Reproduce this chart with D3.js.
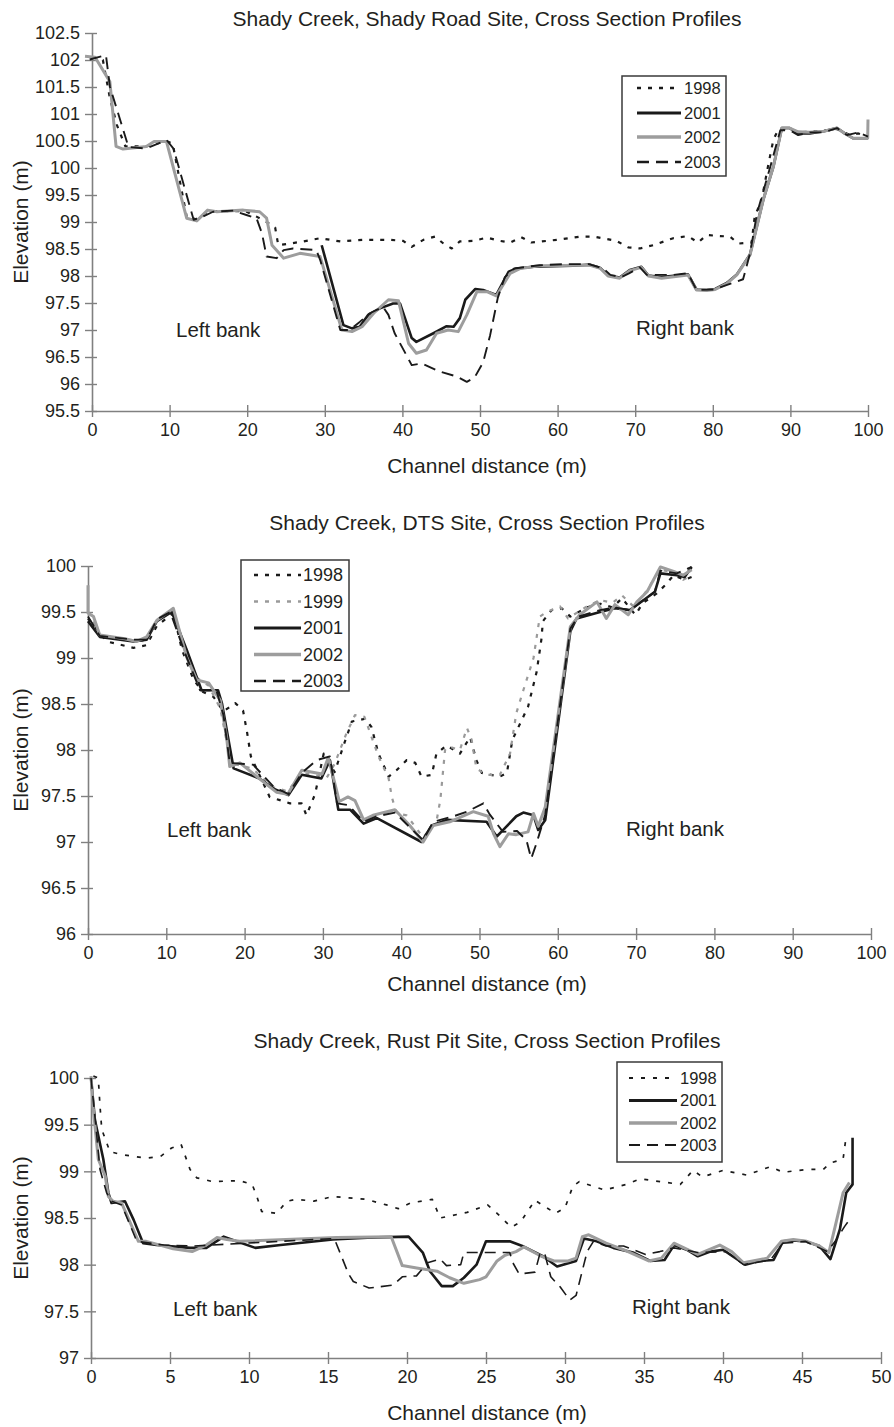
<!DOCTYPE html>
<html>
<head>
<meta charset="utf-8">
<script src="https://cdn.jsdelivr.net/npm/d3@7/dist/d3.min.js"></script>
<style>
  body { margin: 0; background: #fff; }
  text { font-family: "Liberation Sans", Arial, sans-serif; fill: #231f20; }
</style>
</head>
<body>
<div id="chart"></div>
<script>
// ---- Shady Road site: [channel distance (m), elevation (m)]
var road1998 = [[0,102.05],[1.4,102.0],[2.3,101.3],[3.2,100.8],[4.3,100.4],[7,100.4],[9.6,100.5],[10.4,100.45],[12.2,99.1],[13.4,99.05],[15,99.2],[19.8,99.2],[21.2,99.1],[22.5,99.0],[23.6,98.9],[24.0,98.57],[25.5,98.6],[27.2,98.64],[29.4,98.7],[32,98.64],[35,98.67],[38.4,98.67],[40.1,98.65],[41.2,98.54],[42.7,98.67],[44.2,98.73],[45.3,98.6],[46.35,98.51],[47.4,98.64],[49.1,98.65],[50.9,98.71],[52.6,98.65],[53.9,98.62],[55.3,98.72],[56.6,98.62],[59.9,98.67],[62.9,98.73],[64.6,98.73],[67.6,98.65],[69.1,98.53],[70.6,98.51],[72.3,98.57],[74.9,98.7],[76.8,98.74],[78.1,98.62],[79.2,98.76],[80.9,98.74],[82.2,98.73],[83.3,98.6],[85.0,98.62],[85.4,99.1],[86.3,99.41],[87.1,100.02],[87.8,100.52],[88.4,100.7],[89.5,100.74],[91.2,100.66],[93.3,100.68],[96.0,100.72],[97.7,100.61],[98.75,100.64],[100,100.58]];
var road2001 = [[29.6,98.57],[32.4,97.09],[33.5,97.03],[34.5,97.06],[35.6,97.28],[37.1,97.4],[38.8,97.49],[39.7,97.49],[41.2,96.85],[41.8,96.78],[44.0,96.94],[45.7,97.07],[46.6,97.06],[47.4,97.22],[48.1,97.56],[49.4,97.76],[50.4,97.74],[52.1,97.65],[53.7,98.08],[54.7,98.14],[56.9,98.17],[62,98.19],[64.2,98.21],[65.5,98.15],[66.5,98.01],[68.0,97.97],[69.3,98.11],[70.8,98.17],[71.7,98.01],[73.4,97.98],[76.8,98.03],[77.9,97.75],[79.2,97.74],[80.3,97.76],[81.8,97.87],[83.1,98.03],[84.8,98.4],[86.5,99.41],[87.8,100.02],[88.9,100.74],[89.9,100.74],[91.0,100.64],[92.5,100.64],[94.3,100.68],[96.0,100.74],[97.0,100.64],[98.1,100.55],[100,100.55]];
var road2002 = [[-0.9,102.07],[0.4,102.05],[2.3,101.6],[3.1,100.4],[4.0,100.35],[7.0,100.4],[8.0,100.49],[9.6,100.49],[12.2,99.07],[13.5,99.02],[14.9,99.22],[16.1,99.19],[19.5,99.22],[21.6,99.19],[22.5,99.07],[23.2,98.57],[24.7,98.33],[26.8,98.42],[29.4,98.36],[32.2,97.0],[33.5,96.97],[34.8,97.06],[36.3,97.31],[38.2,97.56],[39.5,97.54],[40.8,96.75],[41.8,96.57],[43.1,96.63],[44.4,96.94],[45.9,97.0],[47.2,96.97],[48.3,97.28],[49.6,97.71],[50.9,97.71],[52.1,97.63],[53.9,98.05],[55.2,98.14],[57.7,98.19],[62.9,98.2],[64.2,98.2],[65.5,98.14],[66.5,98.0],[68.0,97.96],[69.3,98.1],[70.8,98.16],[71.7,98.0],[73.4,97.96],[76.8,98.02],[77.9,97.74],[79.2,97.73],[80.3,97.75],[81.8,97.86],[83.1,98.02],[84.8,98.39],[86.5,99.41],[87.8,100.02],[88.9,100.74],[89.9,100.74],[91.0,100.67],[92.5,100.66],[94.3,100.68],[96.0,100.74],[97.0,100.64],[98.1,100.55],[99.96,100.55],[100.0,100.9]];
var road2003 = [[-0.3,102.01],[1.8,102.09],[2.3,101.51],[4.7,100.39],[7.0,100.36],[9.6,100.52],[10.5,100.36],[13.1,99.04],[14.3,99.1],[15.6,99.19],[18.2,99.21],[19.9,99.13],[21.2,99.07],[21.9,98.79],[22.5,98.36],[23.8,98.33],[24.7,98.48],[25.9,98.51],[28.9,98.48],[29.4,98.3],[32.0,97.0],[33.2,97.0],[34.5,97.15],[35.8,97.31],[37.5,97.43],[38.2,97.28],[39.0,96.94],[41.2,96.35],[42.5,96.38],[44.8,96.23],[47.0,96.14],[48.3,96.04],[49.3,96.12],[50.4,96.4],[51.3,96.9],[52.3,97.6],[53.2,97.98],[54.4,98.14],[57.7,98.2],[61.2,98.22],[64.0,98.22],[65.9,98.14],[66.8,98.02],[68.2,97.98],[69.2,98.05],[70.6,98.16],[71.5,98.02],[74.9,98.02],[76.8,98.05],[77.9,97.74],[80.2,97.75],[83.1,97.9],[83.9,97.94],[84.8,98.42],[85.7,99.16],[87.4,100.02],[88.7,100.7],[89.9,100.7],[91.0,100.61],[92.5,100.66],[94.3,100.66],[96.0,100.74],[97.3,100.61],[98.75,100.66],[100,100.58]];

// ---- DTS site
var dts1998 = [[0,99.43],[2.4,99.18],[5.8,99.11],[7.5,99.14],[8.8,99.35],[10.9,99.49],[12.0,99.09],[13.5,98.76],[14.7,98.63],[16.0,98.58],[17.3,98.42],[18.8,98.51],[19.8,98.43],[20.3,98.2],[20.8,97.93],[22.0,97.71],[23.2,97.49],[25.8,97.42],[27.3,97.42],[27.9,97.29],[29.0,97.52],[30.1,97.96],[31.5,97.76],[32.6,98.04],[33.7,98.31],[35.4,98.34],[36.2,98.25],[37.1,97.96],[38.4,97.71],[39.4,97.78],[40.7,97.89],[41.8,97.86],[42.6,97.71],[43.9,97.73],[44.5,97.96],[45.8,98.05],[47.5,97.96],[48.8,98.14],[49.6,97.89],[50.3,97.75],[52.6,97.71],[53.5,97.75],[54.2,98.11],[55.2,98.29],[56.2,98.47],[57.3,98.85],[57.9,99.2],[58.1,99.4],[59.2,99.52],[60.5,99.54],[61.6,99.45],[63.7,99.55],[65.4,99.59],[67,99.55],[68.2,99.65],[69.9,99.47],[70.9,99.6],[72.6,99.7],[73.7,99.79],[74.8,99.9],[76.2,99.85],[77.1,99.88]];
var dts1999 = [[0,99.5],[1.5,99.25],[5,99.2],[7.5,99.18],[8.8,99.4],[10.7,99.52],[12.2,99.12],[13.6,98.8],[15.4,98.7],[16.9,98.45],[17.8,98.05],[18.5,97.85],[21,97.8],[23.5,97.6],[25.5,97.55],[27.3,97.75],[29.5,97.72],[30.5,97.7],[31.5,97.85],[33,98.18],[34.1,98.38],[35.3,98.36],[37.1,97.93],[38.4,97.69],[38.8,97.49],[39.4,97.31],[40.7,97.29],[42.8,97.05],[44.5,97.22],[45,97.46],[45.6,98.0],[46,98.04],[47.5,98.0],[48.4,98.24],[49,98.11],[49.6,97.8],[50.9,97.73],[52.6,97.73],[53.9,97.96],[54.7,98.4],[55.6,98.65],[56.9,99.0],[57.7,99.45],[58.6,99.5],[60.3,99.56],[61.3,99.43],[63.5,99.55],[65.4,99.63],[67,99.6],[68.2,99.68],[69.8,99.55],[71.4,99.74],[73.1,99.96],[74.8,99.93],[76,99.85],[77.1,99.9]];
var dts2001 = [[0,99.4],[1.5,99.23],[5.8,99.18],[7.5,99.2],[8.8,99.4],[10.7,99.5],[12.6,99.09],[14.5,98.65],[16.6,98.65],[17.1,98.51],[18.6,97.8],[21.9,97.69],[23.7,97.58],[25.6,97.51],[27.3,97.73],[29.8,97.69],[30.9,97.89],[31.97,97.35],[33.5,97.35],[35.2,97.2],[36.9,97.26],[42.6,97.0],[43.9,97.18],[45.8,97.24],[50.9,97.22],[52.2,97.06],[53.0,97.13],[54.7,97.28],[55.6,97.32],[56.9,97.29],[57.5,97.13],[58.4,97.24],[61.6,99.29],[62.4,99.43],[65.4,99.5],[67.3,99.54],[69.2,99.52],[70.5,99.6],[72.4,99.72],[73.1,99.92],[75.2,99.9],[76.2,99.88],[77.1,99.99]];
var dts2002 = [[0,99.79],[0,99.49],[0.7,99.45],[1.5,99.25],[4.7,99.21],[6.2,99.18],[7.5,99.23],[8.8,99.41],[10.9,99.54],[12.6,99.01],[13.9,98.76],[15.4,98.73],[16.9,98.54],[17.7,98.14],[18.1,97.82],[19.4,97.86],[22.6,97.64],[24.1,97.54],[25.5,97.52],[27.3,97.78],[29.9,97.74],[30.7,97.92],[32.1,97.44],[33.2,97.49],[34.1,97.45],[35.2,97.24],[36.4,97.29],[39.2,97.35],[41.1,97.18],[42.8,97.0],[44.1,97.18],[46.2,97.22],[49.2,97.33],[51.1,97.28],[51.8,97.09],[52.6,96.95],[53.7,97.09],[54.7,97.08],[56.2,97.11],[56.9,97.31],[57.5,97.17],[58.4,97.38],[61.6,99.34],[62.8,99.47],[65.0,99.61],[66.2,99.43],[67.3,99.58],[69.0,99.47],[70.1,99.61],[71.4,99.72],[73.1,99.99],[74.8,99.94],[76.0,99.9],[77.1,99.96]];
var dts2003 = [[0,99.45],[1.5,99.24],[5.8,99.2],[7.5,99.2],[8.8,99.42],[10.5,99.5],[12.4,99.05],[14.3,98.65],[16.4,98.65],[17.3,98.38],[18.1,97.86],[21.1,97.84],[23.7,97.6],[25.6,97.52],[27.3,97.75],[29.2,97.89],[30.9,97.93],[31.8,97.42],[33.3,97.4],[35.2,97.22],[36.9,97.28],[39.2,97.32],[41.1,97.16],[42.8,97.02],[44.1,97.22],[46.7,97.28],[48.4,97.33],[50.5,97.42],[51.3,97.3],[53.0,97.11],[54.8,97.12],[56.0,97.02],[56.6,96.82],[57.3,96.99],[58.4,97.3],[61.6,99.32],[62.6,99.45],[65.4,99.52],[67.3,99.55],[69.2,99.52],[70.5,99.6],[72.4,99.72],[73.1,99.95],[75.2,99.92],[77.1,99.99]];

// ---- Rust Pit site
var rust1998 = [[0.15,100.02],[0.46,100.0],[0.57,99.7],[0.68,99.45],[1.2,99.21],[1.94,99.18],[3.5,99.14],[4.4,99.16],[5.1,99.25],[5.7,99.29],[6.27,99.02],[6.7,98.93],[7.7,98.89],[9.4,98.9],[10.2,98.86],[10.5,98.73],[10.8,98.57],[11.75,98.55],[12.4,98.68],[13.0,98.7],[14.1,98.68],[15.3,98.73],[17.4,98.7],[18.7,98.64],[19.45,98.6],[20.2,98.66],[21.6,98.7],[22.1,98.5],[23.8,98.56],[25.1,98.64],[25.7,98.55],[26.6,98.4],[27.2,98.46],[28.1,98.69],[29.4,98.55],[30.0,98.61],[30.5,98.84],[30.9,98.89],[32.5,98.8],[33.9,98.86],[34.75,98.92],[37.3,98.86],[38.1,99.01],[38.7,98.94],[40.0,99.01],[41.5,98.96],[43.0,99.05],[43.8,98.99],[45.3,99.02],[46.35,99.02],[46.8,99.09],[47.6,99.13],[47.8,99.38]];
var rust2001 = [[0,100.0],[0.25,99.55],[0.78,99.13],[1.1,98.77],[1.3,98.66],[2.15,98.68],[2.7,98.48],[3.3,98.23],[4.15,98.21],[6.27,98.18],[7.3,98.18],[8.4,98.3],[9.2,98.25],[10.4,98.18],[12.0,98.21],[15.3,98.27],[17.5,98.29],[20.1,98.3],[21.0,98.13],[21.45,97.93],[22.2,97.77],[22.9,97.77],[23.6,97.86],[24.4,98.0],[25.0,98.25],[26.5,98.25],[27.3,98.2],[28.6,98.09],[29.5,97.98],[30.7,98.04],[31.2,98.28],[32.0,98.25],[33.06,98.18],[34.3,98.13],[35.4,98.04],[36.3,98.05],[36.9,98.21],[37.7,98.16],[38.4,98.09],[39.2,98.14],[40.0,98.16],[41.4,98.0],[42.3,98.04],[43.2,98.05],[43.8,98.25],[44.45,98.26],[45.2,98.25],[46.1,98.2],[46.8,98.06],[47.4,98.38],[47.8,98.77],[48.2,98.86],[48.2,99.36]];
var rust2002 = [[0,100.02],[0.15,99.66],[0.46,99.13],[0.9,98.95],[1.1,98.73],[1.4,98.68],[1.94,98.66],[3.0,98.25],[3.5,98.25],[5.2,98.17],[6.4,98.14],[7.3,98.21],[7.96,98.29],[8.6,98.27],[9.4,98.25],[15.55,98.29],[19.0,98.3],[19.7,97.99],[20.8,97.96],[21.9,97.93],[22.7,97.86],[23.6,97.8],[24.6,97.84],[25.0,97.87],[25.7,98.04],[26.2,98.1],[26.9,98.14],[27.4,98.19],[28.5,98.09],[29.3,98.04],[30.2,98.04],[30.7,98.07],[31.1,98.3],[31.5,98.32],[32.6,98.23],[33.7,98.16],[35.3,98.04],[36.1,98.07],[36.9,98.23],[38.4,98.11],[39.8,98.21],[40.55,98.14],[41.3,98.02],[42.8,98.07],[43.7,98.25],[44.45,98.27],[45.3,98.25],[46.1,98.2],[46.7,98.13],[47.1,98.41],[47.6,98.77],[48.0,98.88]];
var rust2003 = [[0,100.0],[0.3,99.5],[0.57,99.02],[0.99,98.77],[1.3,98.68],[1.94,98.64],[2.9,98.25],[4.6,98.21],[6.5,98.2],[8.6,98.22],[12.0,98.25],[15.4,98.28],[16.3,97.9],[16.6,97.82],[17.6,97.75],[19.1,97.78],[19.7,97.87],[20.6,97.88],[21.3,98.02],[22.1,98.06],[22.5,97.99],[23.4,98.0],[23.6,98.13],[25.9,98.13],[26.5,98.13],[26.7,98.02],[27.1,97.9],[28.1,97.92],[28.4,98.11],[28.7,98.13],[29.1,97.87],[29.7,97.76],[30.3,97.62],[30.7,97.67],[31.4,98.14],[31.8,98.25],[32.6,98.2],[33.7,98.2],[35.1,98.11],[36.0,98.14],[36.9,98.18],[38.4,98.13],[40.2,98.14],[41.3,98.0],[43.0,98.05],[43.8,98.23],[45.2,98.25],[46.6,98.14],[47.1,98.25],[47.7,98.41],[48.0,98.48]];

// ---- tick values
var roadYTicks = d3.range(95.5, 102.51, 0.5);
var dtsYTicks = d3.range(96, 100.01, 0.5);
var rustYTicks = d3.range(97, 100.01, 0.5);
var xTicks100 = d3.range(0, 101, 10);
var xTicks50 = d3.range(0, 51, 5);

// line look for each survey year
var yearStyle = {
  "1998": {color: "#1a1a1a", width: 2.2, dash: "4,7"},
  "1999": {color: "#9a9a9a", width: 2.2, dash: "4,7"},
  "2001": {color: "#1a1a1a", width: 2.6, dash: null},
  "2002": {color: "#9d9d9d", width: 3, dash: null},
  "2003": {color: "#1a1a1a", width: 1.9, dash: "12,7"}
};

var panels = [
  {
    title: "Shady Creek, Shady Road Site, Cross Section Profiles",
    series: [["1998", road1998], ["2001", road2001], ["2002", road2002], ["2003", road2003]],
    xDomain: [0, 100], xTicks: xTicks100, yDomain: [95.5, 102.5], yTicks: roadYTicks,
    left: 92, right: 868, top: 33, bottom: 411,
    titleY: 26, xTitleY: 473,
    legend: {x: 622, y: 76, w: 104, h: 100, rows: [88, 113, 137, 162], lx1: 637, lx2: 681, tx: 684, fs: 16.5},
    leftBank: [176, 337], rightBank: [636, 335]
  },
  {
    title: "Shady Creek, DTS Site, Cross Section Profiles",
    series: [["1998", dts1998], ["1999", dts1999], ["2001", dts2001], ["2002", dts2002], ["2003", dts2003]],
    xDomain: [0, 100], xTicks: xTicks100, yDomain: [96, 100], yTicks: dtsYTicks,
    left: 88, right: 871, top: 566, bottom: 934,
    titleY: 530, xTitleY: 991,
    legend: {x: 241, y: 560, w: 108, h: 131, rows: [575, 601.5, 628, 654.5, 681], lx1: 254, lx2: 301, tx: 303, fs: 18},
    leftBank: [167, 837], rightBank: [626, 836]
  },
  {
    title: "Shady Creek, Rust Pit Site, Cross Section Profiles",
    series: [["1998", rust1998], ["2001", rust2001], ["2002", rust2002], ["2003", rust2003]],
    xDomain: [0, 50], xTicks: xTicks50, yDomain: [97, 100], yTicks: rustYTicks,
    left: 91, right: 881, top: 1078, bottom: 1358,
    titleY: 1048, xTitleY: 1420,
    legend: {x: 617, y: 1062, w: 105, h: 100, rows: [1078, 1100.5, 1123, 1145], lx1: 629, lx2: 677, tx: 680, fs: 16.5},
    leftBank: [173, 1316], rightBank: [632, 1314],
    thin: true
  }
];

var svg = d3.select("#chart")
  .append("svg")
  .attr("width", 894)
  .attr("height", 1427);

var axisColor = "#808080";

function styleOf(year, p) {
  var s = Object.assign({}, yearStyle[year]);
  if (p.thin && year === "1998") { s.width = 1.7; s.dash = "4,8"; }
  if (p.thin && year === "2003") { s.width = 1.6; s.dash = "11,7"; }
  return s;
}

panels.forEach(function(p) {
  var x = d3.scaleLinear().domain(p.xDomain).range([p.left, p.right]);
  var y = d3.scaleLinear().domain(p.yDomain).range([p.bottom, p.top]);
  var g = svg.append("g");

  // Title
  g.append("text")
    .attr("x", 487).attr("y", p.titleY)
    .attr("text-anchor", "middle")
    .attr("font-size", 21)
    .text(p.title);

  // Axes
  var yAxis = g.append("g")
    .attr("transform", `translate(${p.left},0)`)
    .call(d3.axisLeft(y).tickValues(p.yTicks).tickFormat(d => String(+d.toFixed(1))).tickSizeInner(7).tickSizeOuter(0).tickPadding(5));
  yAxis.selectAll(".tick line").attr("x1", 5);

  var xAxis = g.append("g")
    .attr("transform", `translate(0,${p.bottom})`)
    .call(d3.axisBottom(x).tickValues(p.xTicks).tickFormat(d => String(d)).tickSizeInner(6).tickSizeOuter(0).tickPadding(5));
  xAxis.selectAll(".tick line").attr("y1", -6);

  [yAxis, xAxis].forEach(function(a) {
    a.select(".domain").attr("stroke", axisColor).attr("stroke-width", 1.6);
    a.selectAll(".tick line").attr("stroke", axisColor).attr("stroke-width", 1.4);
    a.selectAll(".tick text")
      .attr("font-family", "Liberation Sans, Arial, sans-serif")
      .attr("font-size", 18)
      .attr("fill", "#231f20");
  });
  xAxis.selectAll(".tick text").attr("dy", null).attr("y", 25);

  // Axis titles
  g.append("text")
    .attr("x", 487).attr("y", p.xTitleY)
    .attr("text-anchor", "middle")
    .attr("font-size", 21)
    .text("Channel distance (m)");

  g.append("text")
    .attr("transform", `translate(28,${(p.top + p.bottom) / 2}) rotate(-90)`)
    .attr("text-anchor", "middle")
    .attr("font-size", 21)
    .text("Elevation (m)");

  // Profiles
  var line = d3.line().x(d => x(d[0])).y(d => y(d[1]));
  p.series.forEach(function(s) {
    var st = styleOf(s[0], p);
    g.append("path")
      .datum(s[1])
      .attr("d", line)
      .attr("fill", "none")
      .attr("stroke", st.color)
      .attr("stroke-width", st.width)
      .attr("stroke-dasharray", st.dash)
      .attr("stroke-linejoin", "round");
  });

  // Bank labels
  g.append("text").attr("x", p.leftBank[0]).attr("y", p.leftBank[1]).attr("font-size", 20.5).text("Left bank");
  g.append("text").attr("x", p.rightBank[0]).attr("y", p.rightBank[1]).attr("font-size", 20.5).text("Right bank");

  // Legend
  var L = p.legend;
  g.append("rect")
    .attr("x", L.x).attr("y", L.y).attr("width", L.w).attr("height", L.h)
    .attr("fill", "#fff").attr("stroke", "#3a3a3a").attr("stroke-width", 1.5);
  p.series.forEach(function(s, i) {
    var st = styleOf(s[0], p);
    var ry = L.rows[i];
    g.append("line")
      .attr("x1", L.lx1).attr("x2", L.lx2).attr("y1", ry).attr("y2", ry)
      .attr("stroke", st.color)
      .attr("stroke-width", st.width + 0.4)
      .attr("stroke-dasharray", st.dash);
    g.append("text")
      .attr("x", L.tx).attr("y", ry + L.fs * 0.36)
      .attr("font-size", L.fs)
      .text(s[0]);
  });
});
</script>
</body>
</html>
